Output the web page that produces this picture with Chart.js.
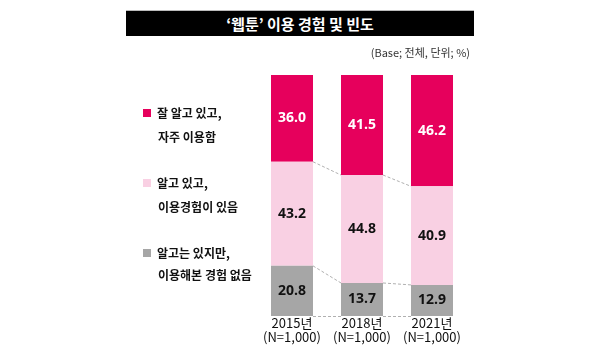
<!DOCTYPE html>
<html>
<head>
<meta charset="utf-8">
<script src="https://cdn.jsdelivr.net/npm/chart.js@4.4.1/dist/chart.umd.min.js"></script>
<style>
  html, body { margin:0; padding:0; background:#fff; }
  #wrap { position:relative; width:600px; height:356px; overflow:hidden; font-family:"Noto Sans CJK KR","Noto Sans",sans-serif; }
  #c { position:absolute; left:0; top:0; }
  #title { position:absolute; left:126px; top:10px; width:348px; height:26px; background:#000; color:#fff;
           font-weight:bold; font-size:15px; line-height:26px; text-align:center; border-top:1px solid #bbb; box-sizing:border-box; }
  #sub { position:absolute; right:130px; top:44px; font-size:11px; color:#333; line-height:16px; }
  .lg { position:absolute; left:143px; font-size:12px; color:#111; font-weight:bold; }
  .lg .sw { position:absolute; left:0; width:8px; height:8px; }
  .lg .t1 { position:absolute; left:14px; white-space:nowrap; line-height:16px; }
  .lg .t2 { position:absolute; left:15px; white-space:nowrap; line-height:16px; }
</style>
</head>
<body>
<div id="wrap">
  <canvas id="c" width="600" height="356"></canvas>
  <div id="title">‘웹툰’ 이용 경험 및 빈도</div>
  <div id="sub">(Base; 전체, 단위; %)</div>
  <div id="legend"></div>
</div>
<script>
const categories = [["2015년", "(N=1,000)"], ["2018년", "(N=1,000)"], ["2021년", "(N=1,000)"]];
const seriesNames = [
  ["알고는 있지만,", "이용해본 경험 없음"],
  ["알고 있고,", "이용경험이 있음"],
  ["잘 알고 있고,", "자주 이용함"]
];
const notUsed   = [20.8, 13.7, 12.9];
const usedSome  = [43.2, 44.8, 40.9];
const usedOften = [36.0, 41.5, 46.2];
const colors = ["#a6a6a6", "#f9d0e3", "#e6005c"];
const labelColors = ["#111", "#111", "#fff"];

const seriesValues = [notUsed, usedSome, usedOften];

// HTML legend (top-to-bottom: red, pink, gray)
const legendTops = [253, 183, 113];
const lgEl = document.getElementById('legend');
[2, 1, 0].forEach(i => {
  const d = document.createElement('div');
  d.className = 'lg';
  d.style.top = legendTops[i] + 'px';
  d.innerHTML = '<div class="sw" style="top:-4px;background:' + colors[i] + '"></div>' +
    '<div class="t1" style="top:-8px">' + seriesNames[i][0] + '</div>' +
    '<div class="t2" style="top:' + (i === 0 ? 14 : 16) + 'px">' + seriesNames[i][1] + '</div>';
  lgEl.appendChild(d);
});

const connectors = {
  id: 'connectors',
  beforeDatasetsDraw(chart) {
    const ctx = chart.ctx;
    ctx.save();
    ctx.strokeStyle = '#b0b0b0';
    ctx.lineWidth = 1;
    ctx.setLineDash([3, 2]);
    const metas = [0, 1, 2].map(i => chart.getDatasetMeta(i));
    const n = categories.length;
    for (let j = 0; j < n - 1; j++) {
      const b0 = metas[0].data[j], b1 = metas[0].data[j + 1];
      ctx.beginPath();
      ctx.moveTo(b0.x + b0.width / 2, b0.base + 0.5);
      ctx.lineTo(b1.x - b1.width / 2, b1.base + 0.5);
      ctx.stroke();
      for (let s = 0; s < 2; s++) {
        const e0 = metas[s].data[j], e1 = metas[s].data[j + 1];
        ctx.beginPath();
        ctx.moveTo(e0.x + e0.width / 2, e0.y);
        ctx.lineTo(e1.x - e1.width / 2, e1.y);
        ctx.stroke();
      }
    }
    ctx.restore();
  },
  afterDatasetsDraw(chart) {
    const ctx = chart.ctx;
    ctx.save();
    ctx.font = 'bold 14px "Open Sans", "Noto Sans", sans-serif';
    ctx.textAlign = 'center';
    ctx.textBaseline = 'middle';
    chart.data.datasets.forEach((ds, i) => {
      const meta = chart.getDatasetMeta(i);
      meta.data.forEach((el, j) => {
        ctx.fillStyle = labelColors[i];
        ctx.fillText(ds.data[j].toFixed(1), el.x, (el.y + el.base) / 2);
      });
    });
    ctx.restore();
  }
};

new Chart(document.getElementById('c'), {
  type: 'bar',
  data: {
    labels: categories,
    datasets: seriesValues.map((v, i) => ({
      label: seriesNames[i].join(' '),
      data: v,
      backgroundColor: colors[i],
      borderWidth: 0,
      barPercentage: 0.6,
      categoryPercentage: 1.0
    }))
  },
  options: {
    responsive: false,
    animation: false,
    layout: { padding: { left: 257, right: 133, top: 75, bottom: 0 } },
    plugins: { legend: { display: false }, tooltip: { enabled: false } },
    scales: {
      x: {
        stacked: true,
        grid: { display: false, drawTicks: false },
        border: { display: false },
        ticks: { color: '#111', font: { size: 13, family: '"Noto Sans CJK KR", sans-serif', lineHeight: 1.1 }, padding: 0, maxRotation: 0 },
        afterFit(axis) { axis.height = 40; }
      },
      y: {
        stacked: true,
        display: false,
        min: 0,
        max: 100
      }
    }
  },
  plugins: [connectors]
});
</script>
</body>
</html>
